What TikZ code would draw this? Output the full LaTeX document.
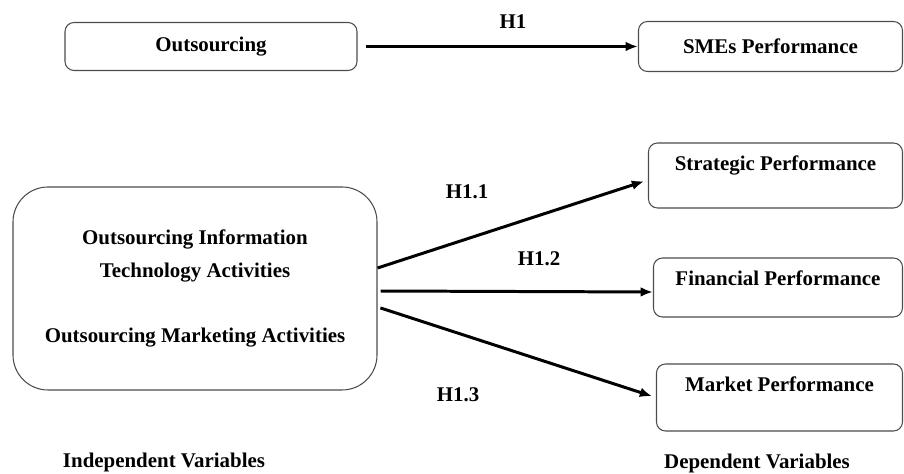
\documentclass[tikz,border=0pt]{standalone}
\usepackage{fontspec}
\setmainfont{Liberation Serif}
\usetikzlibrary{arrows.meta}

\begin{document}
\begin{tikzpicture}[>={Latex[length=7pt,width=5.5pt]},
    font=\fontsize{11.9}{14}\selectfont\bfseries,
    varbox/.style={draw=black!70,line width=0.6pt,rounded corners=0.18cm,align=center,inner sep=0.1cm},
    outbox/.style={varbox,anchor=east,text height=0.45cm},
    link/.style={->,line width=1.7pt}]
    \useasboundingbox (0,0) rectangle (18.08,9.48);

    % Main hypothesis
    \node[varbox,minimum width=5.84cm,minimum height=0.96cm] (outs) at (4.22,8.55) {Outsourcing};
    \node[varbox,anchor=east,minimum width=5.28cm,minimum height=1cm] (smes) at (18.06,8.55) {SMEs Performance};
    \draw[link,shorten <=0.16cm] (outs.east) -- (smes.west);
    \node (h1) at (10.26,9.04) {H1};

    % Independent variable box
    \node[varbox,minimum width=7.28cm,minimum height=4.06cm,rounded corners=0.7cm,
      font=\fontsize{11.9}{18.7}\selectfont\bfseries] (outsact) at (3.9,3.71)
      {Outsourcing Information\\Technology Activities\\[18.7pt]Outsourcing Marketing Activities};

    % Dependent variable boxes
    \node[outbox,minimum width=5.08cm,minimum height=1.3cm,text depth=0.65cm] (strat) at (18.06,5.97) {Strategic Performance};
    \node[outbox,minimum width=4.98cm,minimum height=1.18cm,text depth=0.53cm] (fin) at (18.06,3.73) {Financial Performance};
    \node[outbox,minimum width=4.92cm,minimum height=1.34cm,text depth=0.69cm] (mkt) at (18.06,1.53) {Market Performance};

    % Sub-hypotheses
    \draw[link,shorten >=0.08cm] ([yshift=0.41cm]outsact.east) -- ([yshift=-0.09cm]strat.west);
    \draw[link,shorten <=0.06cm] ([yshift=-0.05cm]outsact.east) -- ([yshift=-0.09cm]fin.west);
    \draw[link,shorten <=0.06cm,shorten >=0.08cm] ([yshift=-0.37cm]outsact.east) -- (mkt.west);
    \node (h11) at (9.34,5.64) {H1.1};
    \node (h12) at (10.78,4.30) {H1.2};
    \node (h13) at (9.16,1.58) {H1.3};

    % Captions
    \node (indep) at (3.28,0.24) {Independent Variables};
    \node (dep) at (15.14,0.22) {Dependent Variables};
\end{tikzpicture}
\end{document}
